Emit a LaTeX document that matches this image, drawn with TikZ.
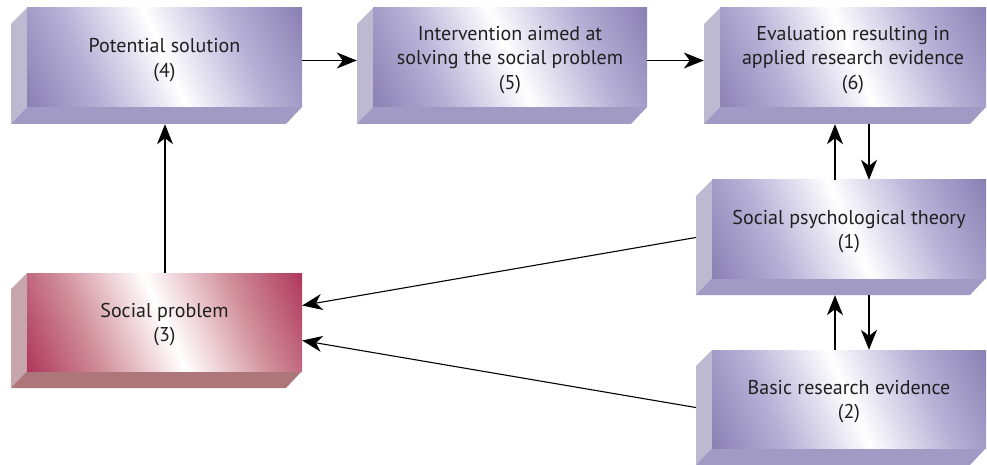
\documentclass[tikz,border=0pt]{standalone}
\usepackage{fontspec}
\setmainfont{PT Sans}
\usetikzlibrary{arrows.meta,calc}
\definecolor{Pdark}{RGB}{128,118,172}
\definecolor{Pmid}{RGB}{182,176,214}
\definecolor{Plight}{RGB}{230,228,242}
\definecolor{Pside}{RGB}{188,185,208}
\definecolor{Pbot}{RGB}{160,154,196}
\definecolor{Rdark}{RGB}{168,36,78}
\definecolor{Rmid}{RGB}{208,142,154}
\definecolor{Rlight}{RGB}{242,218,222}
\definecolor{Rside}{RGB}{198,166,172}
\definecolor{Rbot}{RGB}{172,118,122}
\pgfdeclarehorizontalshading{Pshade}{100bp}{color(0bp)=(Pdark); color(25bp)=(Pdark); color(38bp)=(Pmid); color(46bp)=(Plight); color(50bp)=(white); color(54bp)=(Plight); color(62bp)=(Pmid); color(75bp)=(Pdark); color(100bp)=(Pdark)}
\pgfdeclarehorizontalshading{Rshade}{100bp}{color(0bp)=(Rdark); color(25bp)=(Rdark); color(38bp)=(Rmid); color(46bp)=(Rlight); color(50bp)=(white); color(54bp)=(Rlight); color(62bp)=(Rmid); color(75bp)=(Rdark); color(100bp)=(Rdark)}
\tikzset{
  boxtext/.style={align=center, inner sep=0pt, text=black!88, font=\fontsize{20}{24.5}\selectfont},
  extent/.style={inner sep=0pt, draw=none},
  conn/.style={line width=1.1pt, -{Stealth[length=20pt,width=16pt,inset=6pt]}}
}
% #1 name, #2 x1, #3 y1, #4 x2, #5 y2 (front face), #6 scheme, #7 text
\newcommand\cubebox[7]{%
  \fill[#6side] (#2,#3) -- ({#2-16},{#3+16}) -- ({#2-16},{#5+17}) -- (#2,#5) -- cycle;
  \fill[#6bot] ({#2-16},{#5+17}) -- ({#4-16},{#5+17}) -- (#4,#5) -- (#2,#5) -- cycle;
  \begin{scope}
    \clip (#2,#3) rectangle (#4,#5);
    \begin{scope}[transform canvas={rotate around={24:({(#2+#4)/2},{(#3+#5)/2})}}]
      \shade[shading=#6shade] ({(#2+#4)/2-160},{(#3+#5)/2-200}) rectangle ({(#2+#4)/2+160},{(#3+#5)/2+200});
    \end{scope}
  \end{scope}
  \node[extent, minimum width={(#4-#2)*1pt}, minimum height={(#5-#3)*1pt}] (#1f) at ({(#2+#4)/2},{(#3+#5)/2}) {};
  \node[boxtext] (#1t) at ([yshift=-2.5pt]#1f.center) {#7};
  \node[extent, minimum width={(#4-#2+16)*1pt}, minimum height={(#5-#3+17)*1pt}] (#1) at ({(#2+#4-16)/2},{(#3+#5+17)/2}) {};
}
\begin{document}
\begin{tikzpicture}[x=1pt,y=-1pt]
\useasboundingbox (0,0) rectangle (987,465);
\cubebox{b4}{27}{8}{302}{107}{P}{Potential solution\\(4)}
\cubebox{b5}{373}{8}{647}{107}{P}{Intervention aimed at\\solving the social problem\\(5)}
\cubebox{b6}{720}{8}{986}{107}{P}{Evaluation resulting in\\applied research evidence\\(6)}
\cubebox{b1}{712}{180}{986}{278}{P}{Social psychological theory\\(1)}
\cubebox{b2}{712}{350}{986}{448}{P}{Basic research evidence\\(2)}
\cubebox{b3}{27}{273}{302}{371}{R}{Social problem\\(3)}
% top row
\draw[conn] ([yshift=-3pt]b4f.east) -- ([yshift=-3pt]b4f.east -| b5.west);
\draw[conn] ([yshift=-3pt]b5f.east) -- ([yshift=-3pt]b5f.east -| b6.west);
% 3 -> 4
\draw[conn] ([xshift=0.5pt]b3f.north) -- ([xshift=0.5pt]b3f.north |- b4.south);
% 1 <-> 6
\draw[conn] ([xshift=-14pt]b1f.north) -- ([xshift=-14pt]b1f.north |- b6.south);
\draw[conn] ([xshift=20pt]b1f.north |- b6.south) -- ([xshift=20pt]b1f.north);
% 2 <-> 1
\draw[conn] ([xshift=-14pt]b2f.north) -- ([xshift=-14pt]b2f.north |- b1.south);
\draw[conn] ([xshift=20pt]b2f.north |- b1.south) -- ([xshift=20pt]b2f.north);
% to 3
\draw[conn] (b1.west) -- ([yshift=25pt]b3.east);
\draw[conn] (b2.west) -- ([yshift=-10pt]b3.east);
\end{tikzpicture}
\end{document}
